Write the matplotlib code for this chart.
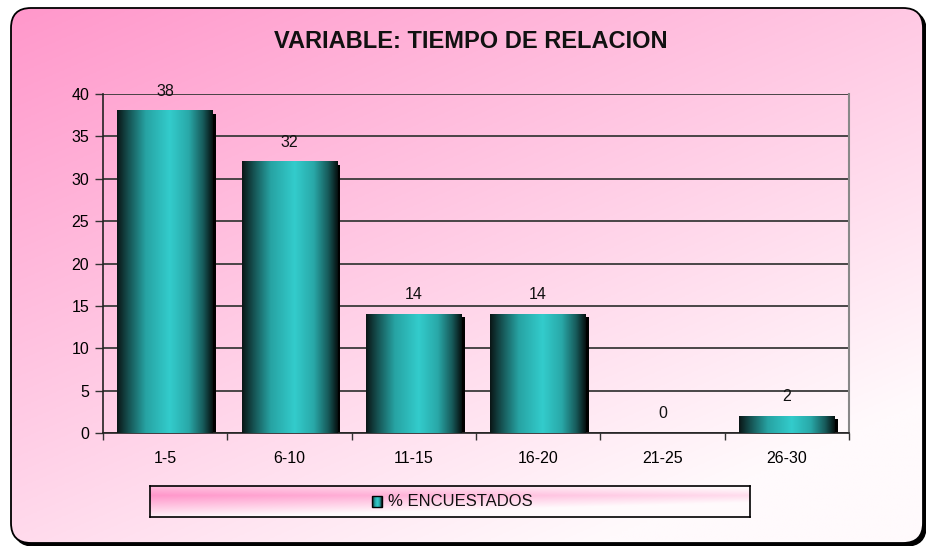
import numpy as np
import matplotlib
matplotlib.use("Agg")
import matplotlib.pyplot as plt
import matplotlib.transforms as mtransforms
from matplotlib.colors import LinearSegmentedColormap
from matplotlib.patches import FancyBboxPatch, Rectangle

plt.rcParams['font.family'] = ['Liberation Sans', 'DejaVu Sans']

# data
categories = ['1-5', '6-10', '11-15', '16-20', '21-25', '26-30']
values = [38, 32, 14, 14, 0, 2]
y_ticks = [0, 5, 10, 15, 20, 25, 30, 35, 40]
title = 'VARIABLE: TIEMPO DE RELACION'
series_name = '% ENCUESTADOS'

W, H = 926, 546
fig = plt.figure(figsize=(W / 100, H / 100), dpi=100)
fig.patch.set_facecolor('white')

pink = np.array([255, 150, 202]) / 255
white = np.array([255, 250, 252]) / 255

# background: rounded frame with shadow and pink diagonal gradient
bg = fig.add_axes([0, 0, 1, 1], zorder=-10)
bg.set_axis_off()
bg.set_xlim(0, W)
bg.set_ylim(0, H)


def rounded(x0, y0, w, h, **kw):
    return FancyBboxPatch((x0, y0), w, h,
                          boxstyle='round,pad=0,rounding_size=20', **kw)


bg.add_patch(rounded(14, 0, 912, 535, fc='black', ec='black', lw=1))
frame = rounded(11, 3, 912, 535, fc='none', ec='black', lw=1.3, zorder=3)
clipper = rounded(11, 3, 912, 535, fc='white', ec='none', zorder=1)
bg.add_patch(clipper)

yy, xx = np.mgrid[0:1:200j, 0:1:300j]
t = np.clip((xx * 0.55 + yy * 0.75) / 1.1, 0, 1)
img = pink[None, None, :] * (1 - t[..., None]) + white[None, None, :] * t[..., None]
im = bg.imshow(img, extent=(0, W, 0, H), aspect='auto', origin='upper', zorder=2)
im.set_clip_path(clipper)
bg.add_patch(frame)
bg.set_xlim(0, W)
bg.set_ylim(0, H)

# main axes
ax = fig.add_axes([103 / W, 113 / H, 746 / W, 339 / H])
ax.patch.set_alpha(0)
x = np.arange(len(categories))
bw = 0.77

# shadows offset a few pixels right/down
off = mtransforms.offset_copy(ax.transData, fig=fig, x=3, y=-3, units='dots')
ax.bar(x, values, width=bw, color='black', transform=off, zorder=2)
bars = ax.bar(x, values, width=bw, color='none', zorder=3)

cyl = LinearSegmentedColormap.from_list(
    'cyl', [(0.0, '#0a1616'), (0.12, '#165252'), (0.3, '#27a3a3'),
            (0.55, '#33cccc'), (0.75, '#29a8a8'), (0.9, '#175a5a'),
            (1.0, '#061010')])
grad = np.linspace(0, 1, 256)[None, :]
for b in bars:
    if b.get_height() <= 0:
        continue
    ax.imshow(grad, cmap=cyl, aspect='auto', zorder=3,
              extent=(b.get_x(), b.get_x() + b.get_width(), 0, b.get_height()))

for xi, v in zip(x, values):
    ax.annotate(str(v), (xi, v), xytext=(0, 14), textcoords='offset points',
                ha='center', va='center', fontsize=11.5, color='#111111')

ax.set_xlim(-0.5, len(categories) - 0.5)
ax.set_ylim(0, 40)
ax.set_yticks(y_ticks)
ax.set_xticks(np.arange(len(categories) + 1) - 0.5, minor=False)
ax.set_xticklabels([])
ax.set_xticks(x, minor=True)
ax.set_xticklabels(categories, minor=True)
ax.tick_params(axis='x', which='minor', length=0, pad=13, labelsize=11.5)
ax.tick_params(axis='x', which='major', length=5, width=1, color='#333333')
ax.tick_params(axis='y', length=6, width=1, color='#333333', labelsize=11.5, pad=4)
ax.yaxis.grid(True, color='#3a3a3a', lw=1.3, zorder=1)
ax.set_axisbelow(True)
for s in ['left', 'bottom']:
    ax.spines[s].set_color('#222222')
    ax.spines[s].set_linewidth(1.2)
ax.spines['top'].set_visible(False)
ax.spines['right'].set_color('#888888')
ax.spines['right'].set_linewidth(1.5)

fig.text(471 / W, 1 - 42 / H, title, ha='center', va='center',
         fontsize=17, fontweight='bold', color='#111111')

# legend box
lg = fig.add_axes([150 / W, 1 - 517 / H, 600 / W, 31 / H])
ly, lx = np.mgrid[0:1:50j, 0:1:300j]
lt = np.clip(np.abs(ly - 0.3) * 1.3 + lx * 0.7, 0, 1)
limg = pink[None, None, :] * (1 - lt[..., None]) + white[None, None, :] * lt[..., None]
lg.imshow(limg, extent=(0, 1, 0, 1), aspect='auto', origin='upper')
lg.set_xlim(0, 1)
lg.set_ylim(0, 1)
lg.set_xticks([])
lg.set_yticks([])
for s in lg.spines.values():
    s.set_linewidth(1.2)
    s.set_color('black')
lg.imshow(grad, cmap=cyl, aspect='auto',
          extent=(222 / 600, 232 / 600, 0.33, 0.67))
lg.add_patch(Rectangle((222 / 600, 0.33), 10 / 600, 0.34, fc='none', ec='black', lw=1))
lg.text(238 / 600, 0.5, series_name, ha='left', va='center', fontsize=12,
        color='#111111')

fig.savefig('out.png', dpi=100)
